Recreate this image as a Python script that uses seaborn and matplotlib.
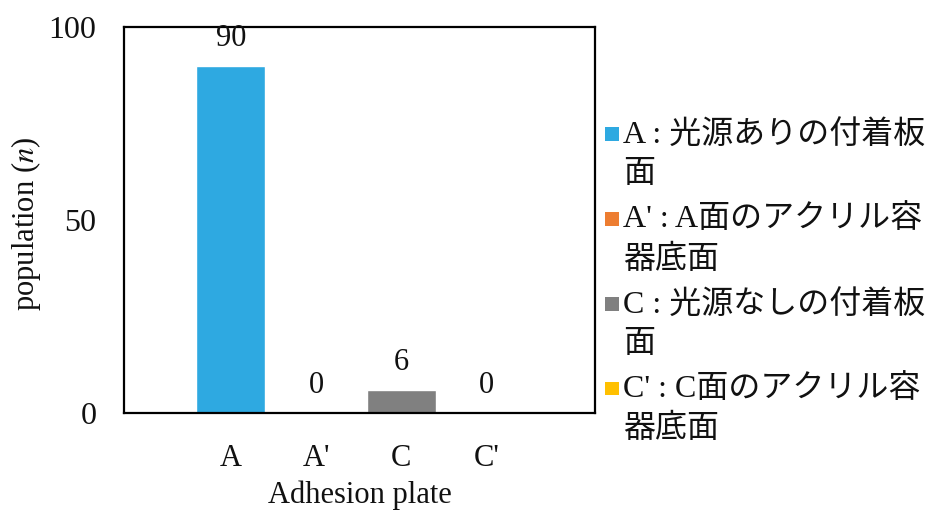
import matplotlib
matplotlib.use("Agg")
import matplotlib.pyplot as plt
from matplotlib.patches import Rectangle
from matplotlib.legend_handler import HandlerBase
import seaborn as sns
import pandas as pd

# Data
plates = ["A", "A'", "C", "C'"]
population = [90, 0, 6, 0]
colors = ["#2EA9E1", "#ED7D31", "#808080", "#FFC000"]
legend_labels = [
    "A : 光源ありの付着板\n面",
    "A' : A面のアクリル容\n器底面",
    "C : 光源なしの付着板\n面",
    "C' : C面のアクリル容\n器底面",
]

sns.set_theme(style="white")
plt.rcParams["font.family"] = ["Liberation Serif", "Noto Sans CJK JP"]
plt.rcParams["mathtext.fontset"] = "stix"

df = pd.DataFrame({"plate": plates, "population": population})

fig = plt.figure(figsize=(9.49, 5.12), dpi=100)
ax = fig.add_axes([0.1307, 0.1934, 0.4963, 0.7539])

sns.barplot(data=df, x="plate", y="population", hue="plate",
            palette=colors, order=plates, hue_order=plates,
            width=0.81, dodge=False, legend=False, ax=ax, saturation=1)

for cont in ax.containers:
    ax.bar_label(cont, fmt="%d", padding=9, fontsize=22, color="#111111")

ax.set_ylim(0, 100)
ax.set_yticks([0, 50, 100])
ax.set_xlim(-1.25, 4.27)

for sp in ax.spines.values():
    sp.set_visible(True)
    sp.set_color("black")
    sp.set_linewidth(1.6)

ax.tick_params(axis="y", direction="in", length=4, width=1.2, pad=20,
               labelsize=23, colors="black")
ax.tick_params(axis="x", length=0, pad=22, labelsize=22, colors="black")
for t in ax.get_yticklabels() + ax.get_xticklabels():
    t.set_color("#111111")

ax.set_xlabel("Adhesion plate", fontsize=22, color="#111111", labelpad=6)
ax.set_ylabel("population ($\\mathit{n}$)", fontsize=22, color="#111111")
ax.yaxis.set_label_coords(-0.172, 0.49)


class TopSquareHandler(HandlerBase):
    """Square swatch aligned with the first line of a two-line label."""

    def __init__(self, size, lift, **kw):
        super().__init__(**kw)
        self.size = size
        self.lift = lift

    def create_artists(self, legend, orig_handle, xdescent, ydescent,
                       width, height, fontsize, trans):
        color = orig_handle.patches[0].get_facecolor()
        s = self.size
        y0 = -ydescent + height / 2 + self.lift - s / 2
        r = Rectangle((-xdescent, y0), s, s, facecolor=color,
                      edgecolor="none", transform=trans)
        return [r]


handles = [cont for cont in ax.containers]
handler = TopSquareHandler(size=10.0, lift=14.5)
leg = fig.legend(handles, legend_labels, loc="upper left",
                 bbox_to_anchor=(0.6375, 0.765), frameon=False,
                 prop={"family": ["Liberation Serif", "Noto Sans CJK JP"], "size": 23},
                 handlelength=0.45, handleheight=0.5, handletextpad=0.12,
                 labelspacing=0.47, borderaxespad=0, borderpad=0,
                 handler_map={h: handler for h in handles})
for t in leg.get_texts():
    t.set_linespacing(1.45)
    t.set_color("#111111")

fig.savefig("out.png", dpi=100)
